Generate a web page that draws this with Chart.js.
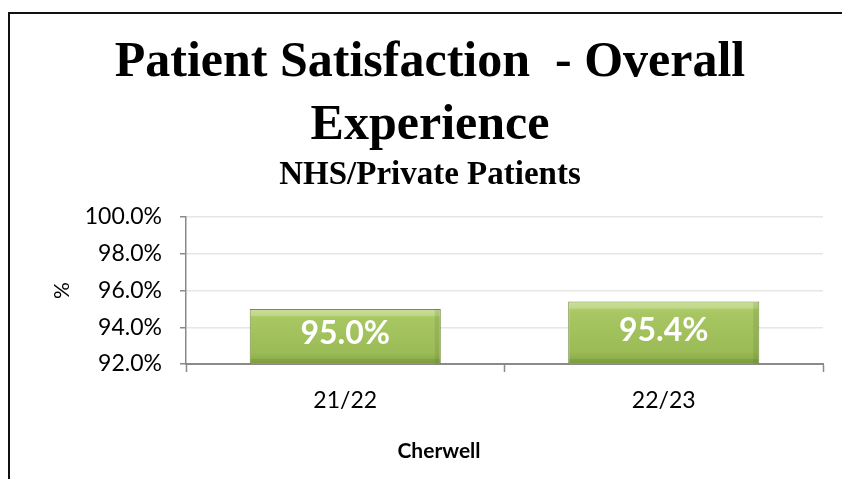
<!DOCTYPE html>
<html>
<head>
<meta charset="utf-8">
<script src="https://cdn.jsdelivr.net/npm/chart.js@4"></script>
<style>
  html, body { margin: 0; padding: 0; background: #fff; overflow: hidden; }
  #frame { position: absolute; left: 8px; top: 12px; width: 900px; height: 600px;
           border-left: 2px solid #111; border-top: 2px solid #111; }
  #chartBox { position: absolute; left: 10px; top: 14px; }
</style>
</head>
<body>
<div id="frame"></div>
<div id="chartBox"><canvas id="barChart" width="840" height="465"></canvas></div>
<script>
"use strict";
var categories = ['21/22', '22/23'];
var satisfaction = [95.0, 95.4];
var yTicks = { min: 92, max: 100, step: 2 };
var titleLines = ['Patient Satisfaction  - Overall', 'Experience'];
var subtitleText = 'NHS/Private Patients';
var xTitle = 'Cherwell';
var yTitle = '%';

/* green bevel-ish gradient for each bar */
function barFill(ctx) {
    var chart = ctx.chart;
    var y = chart.scales.y;
    if (!y || !ctx.parsed || !chart.chartArea) return '#9bbb59';
    var top = y.getPixelForValue(ctx.parsed.y);
    var bottom = y.getPixelForValue(yTicks.min);
    if (!isFinite(top) || !isFinite(bottom) || top === bottom) return '#9bbb59';
    var g = chart.ctx.createLinearGradient(0, top, 0, bottom);
    g.addColorStop(0, '#bcd779');
    g.addColorStop(0.18, '#a8c763');
    g.addColorStop(0.8, '#9bbb57');
    g.addColorStop(1, '#86a545');
    return g;
}

var labelsPlugin = {
    id: 'barLabels',
    afterDatasetsDraw: function(chart) {
        var c = chart.ctx;
        var xs = chart.scales.x, ys = chart.scales.y;
        var meta = chart.getDatasetMeta(0);
        c.save();
        satisfaction.forEach(function(v, i) {
            var cx = xs.getPixelForValue(i);
            var top = ys.getPixelForValue(v);
            var base = ys.getPixelForValue(yTicks.min);
            var w = meta.data[i] ? meta.data[i].width : 190;
            // light top bevel and darker side edges
            c.fillStyle = 'rgba(255,255,255,0.22)';
            c.fillRect(cx - w / 2 + 1, top + 1, w - 2, 6);
            c.fillStyle = 'rgba(90,115,40,0.18)';
            c.fillRect(cx + w / 2 - 6, top + 1, 5, base - top - 1);
            c.fillRect(cx - w / 2 + 1, base - 5, w - 2, 4);
            c.fillStyle = '#ffffff';
            c.font = 'bold 32px Lato';
            c.textAlign = 'center';
            c.textBaseline = 'alphabetic';
            c.fillText(v.toFixed(1) + '%', cx, (top + base) / 2 + 8);
        });
        // x axis title
        c.fillStyle = '#000';
        c.font = 'bold 21px Lato';
        c.textAlign = 'center';
        c.textBaseline = 'middle';
        c.fillText(xTitle, 429, 437);
        c.restore();
    }
};

var bar = document.getElementById('barChart').getContext('2d');
var myBarChart = new Chart(bar, {
    type: 'bar',
    data: {
        labels: categories,
        datasets: [{
            label: 'Overall Experience',
            data: satisfaction,
            backgroundColor: barFill,
            borderColor: '#728c3c',
            borderWidth: 1,
            barPercentage: 0.6,
            categoryPercentage: 1
        }]
    },
    options: {
        responsive: false,
        animation: false,
        devicePixelRatio: 1,
        layout: { padding: { top: 10, left: 27, right: 27, bottom: 0 } },
        plugins: {
            legend: { display: false },
            tooltip: { enabled: false },
            title: {
                display: true,
                text: titleLines,
                color: '#000',
                font: { family: 'Liberation Serif', size: 50, weight: 'bold', lineHeight: 1.25 },
                padding: { top: 8, bottom: 0 }
            },
            subtitle: {
                display: true,
                text: subtitleText,
                color: '#000',
                font: { family: 'Liberation Serif', size: 33, weight: 'bold', lineHeight: 1.0 },
                padding: { top: 2, bottom: 25 }
            }
        },
        scales: {
            x: {
                afterFit: function(scale) { scale.height = 115; },
                offset: true,
                grid: {
                    display: true,
                    offset: true,
                    drawOnChartArea: false,
                    tickLength: 8,
                    tickColor: '#8a8a8a',
                    tickWidth: 1.5
                },
                border: { color: '#8a8a8a', width: 2 },
                ticks: {
                    color: '#000',
                    padding: 15,
                    font: { family: 'Lato', size: 23 }
                }
            },
            y: {
                min: yTicks.min,
                max: yTicks.max,
                afterFit: function(scale) { scale.width = 149; },
                grid: {
                    color: '#e6e6e6',
                    lineWidth: 1.5,
                    tickLength: 6,
                    tickColor: '#8a8a8a'
                },
                border: { color: '#8a8a8a', width: 1.5 },
                ticks: {
                    stepSize: yTicks.step,
                    color: '#000',
                    padding: 18,
                    font: { family: 'Lato', size: 23 },
                    callback: function(v) { return v.toFixed(1) + '%'; }
                },
                title: {
                    display: true,
                    text: yTitle,
                    color: '#000',
                    font: { family: 'Lato', size: 21 },
                    padding: { top: 13, bottom: 0 }
                }
            }
        }
    },
    plugins: [labelsPlugin]
});
</script>
</body>
</html>
